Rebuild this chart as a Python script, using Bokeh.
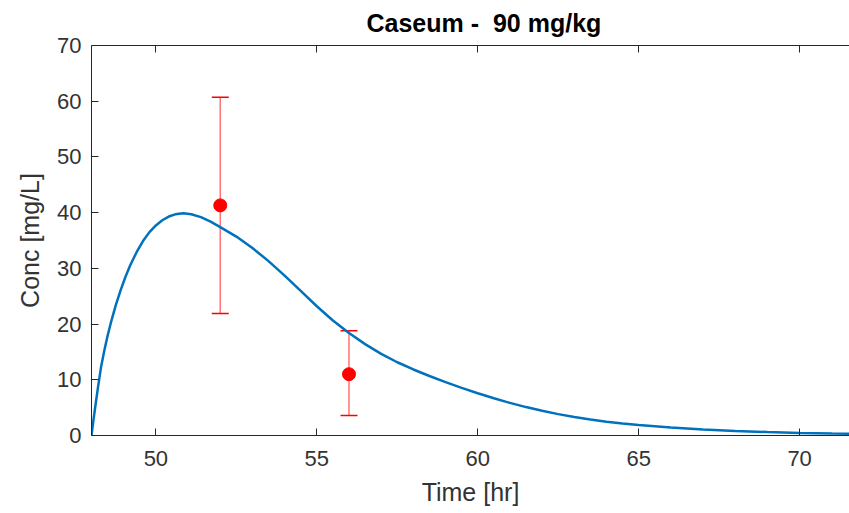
from bokeh.plotting import figure
from bokeh.models import (ColumnDataSource, Whisker, TeeHead, LinearAxis, Range1d,
                          FixedTicker, CustomLabelingPolicy)
from bokeh.embed import file_html
from bokeh.resources import INLINE

# ---- data ----
model_time = [48.00, 48.06, 48.12, 48.20, 48.30, 48.40, 48.50, 48.60, 48.75, 48.90,
              49.05, 49.20, 49.40, 49.60, 49.80, 50.00, 50.20, 50.40, 50.60, 50.85,
              51.10, 51.40, 51.70, 52.00, 52.50, 53.00, 53.50, 54.00, 54.50, 55.00,
              55.50, 56.00, 56.50, 57.00, 57.50, 58.00, 58.50, 59.00, 59.50, 60.00,
              60.50, 61.00, 61.50, 62.00, 62.50, 63.00, 63.50, 64.00, 64.50, 65.00,
              66.00, 67.00, 68.00, 69.00, 70.00, 71.00, 72.00]
model_conc = [0.0, 2.7, 5.3, 8.6, 12.4, 15.3, 17.9, 20.2, 23.3, 26.0,
              28.4, 30.5, 32.9, 34.9, 36.5, 37.7, 38.64, 39.3, 39.7, 39.9,
              39.7, 39.2, 38.4, 37.4, 35.7, 33.65, 31.3, 28.7, 25.95, 23.2,
              20.65, 18.4, 16.4, 14.65, 13.15, 11.85, 10.68, 9.58, 8.55, 7.58,
              6.68, 5.85, 5.1, 4.43, 3.84, 3.32, 2.87, 2.48, 2.15, 1.87,
              1.42, 1.08, 0.82, 0.62, 0.47, 0.36, 0.27]

obs_time = [52, 56]
obs_conc = [41.3, 11.0]
obs_low = [21.9, 3.6]
obs_high = [60.7, 18.8]

x_ticks = [50, 55, 60, 65, 70]
y_ticks = [0, 10, 20, 30, 40, 50, 60, 70]

AX = "#262626"
LBL = "#333333"
FONT = "Liberation Sans"

p = figure(width=849, height=513, output_backend="svg", toolbar_location=None,
           x_range=Range1d(48, 71.55), y_range=Range1d(0, 70),
           min_border_left=91, min_border_right=0, min_border_top=45, min_border_bottom=78,
           title="Caseum -\u00a0 90 mg/kg")
p.outline_line_color = None
p.grid.visible = False
p.background_fill_color = "white"
p.border_fill_color = "white"

p.title.align = "left"
p.title.offset = 275
p.title.text_font = FONT
p.title.text_font_size = "25px"
p.title.text_font_style = "bold"
p.title.text_color = "black"

p.line(model_time, model_conc, line_color="#0072BD", line_width=2.5)

src = ColumnDataSource(dict(t=obs_time, c=obs_conc, lo=obs_low, hi=obs_high))
w = Whisker(source=src, base="t", lower="lo", upper="hi", line_color="red",
            line_width=1.5, line_alpha=0.55,
            upper_head=TeeHead(size=17, line_color="red", line_width=1.5),
            lower_head=TeeHead(size=17, line_color="red", line_width=1.5))
p.add_layout(w)
p.scatter("t", "c", source=src, size=13, fill_color="red", line_color="red")

for ax in (p.xaxis[0], p.yaxis[0]):
    ax.axis_line_color = AX
    ax.major_tick_line_color = AX
    ax.major_tick_in = 7
    ax.major_tick_out = 0
    ax.minor_tick_line_color = None
    ax.major_label_text_font = FONT
    ax.major_label_text_font_size = "22px"
    ax.major_label_text_color = LBL
    ax.axis_label_text_font = FONT
    ax.axis_label_text_font_size = "25px"
    ax.axis_label_text_font_style = "normal"
    ax.axis_label_text_color = LBL

p.xaxis.ticker = FixedTicker(ticks=x_ticks)
p.yaxis.ticker = FixedTicker(ticks=y_ticks)
p.xaxis.axis_label = "Time [hr]"
p.yaxis.axis_label = "Conc [mg/L]"
p.xaxis.major_label_standoff = 15
p.xaxis.axis_label_standoff = 9
p.yaxis.major_label_standoff = 10
p.yaxis.axis_label_standoff = 10

top = LinearAxis(ticker=FixedTicker(ticks=x_ticks))
top.axis_line_color = AX
top.major_tick_line_color = AX
top.major_tick_in = 7
top.major_tick_out = 0
top.minor_tick_line_color = None
top.major_label_text_font_size = "1px"
top.major_label_standoff = 0
top.major_label_policy = CustomLabelingPolicy(
    code="for (const i of indices) { indices.unset(i) }\nreturn indices")
p.add_layout(top, "above")

open("out.html", "w").write(file_html(p, INLINE))
